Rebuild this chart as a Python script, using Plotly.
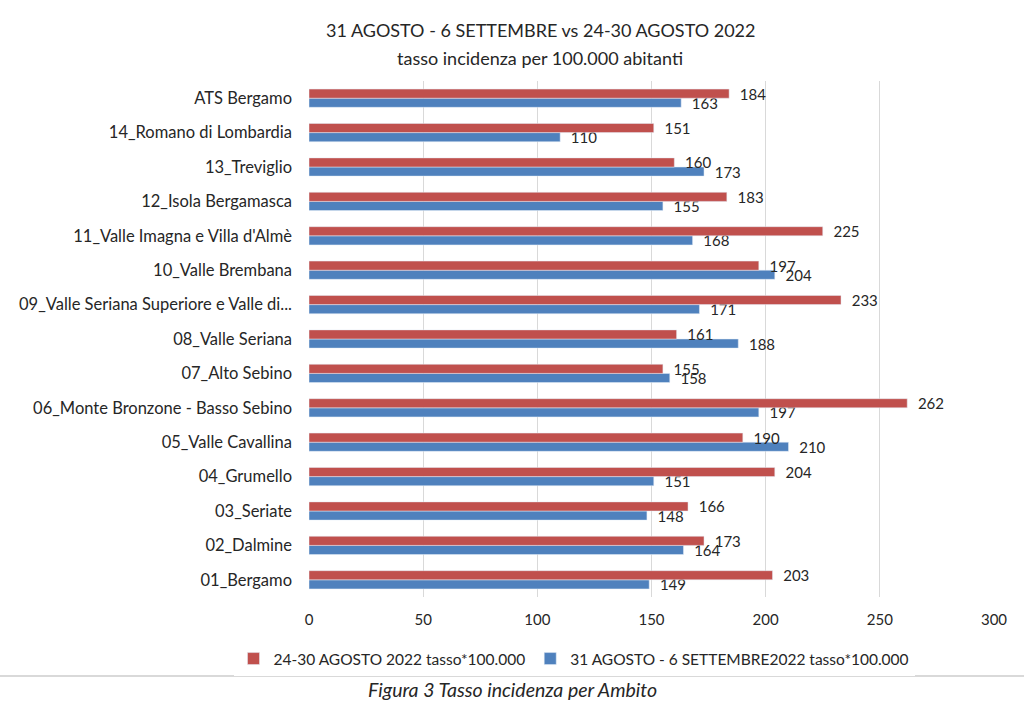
import plotly.graph_objects as go

categories = ["01_Bergamo", "02_Dalmine", "03_Seriate", "04_Grumello", "05_Valle Cavallina",
              "06_Monte Bronzone - Basso Sebino", "07_Alto Sebino", "08_Valle Seriana",
              "09_Valle Seriana Superiore e Valle di...", "10_Valle Brembana",
              "11_Valle Imagna e Villa d'Almè", "12_Isola Bergamasca", "13_Treviglio",
              "14_Romano di Lombardia", "ATS Bergamo"]
agosto_24_30 = [203, 173, 166, 204, 190, 262, 155, 161, 233, 197, 225, 183, 160, 151, 184]
agosto31_sett6 = [149, 164, 148, 151, 210, 197, 158, 188, 171, 204, 168, 155, 173, 110, 163]
tick_vals = [0, 50, 100, 150, 200, 250, 300]

FONT = "Lato"
TXT = "#262626"

fig = go.Figure()
fig.add_trace(go.Bar(
    y=categories, x=agosto31_sett6, orientation="h",
    name="31 AGOSTO - 6 SETTEMBRE2022 tasso*100.000",
    marker=dict(color="#4F81BD"), text=agosto31_sett6, texttemplate="  %{x}",
    textposition="outside", constraintext="none",
    textfont=dict(size=15, color=TXT, family=FONT), cliponaxis=False, legendrank=2))
fig.add_trace(go.Bar(
    y=categories, x=agosto_24_30, orientation="h",
    name="24-30 AGOSTO 2022 tasso*100.000",
    marker=dict(color="#C0504D"), text=agosto_24_30, texttemplate="  %{x}",
    textposition="outside", constraintext="none",
    textfont=dict(size=15, color=TXT, family=FONT), cliponaxis=False, legendrank=1))

fig.update_layout(
    width=1024, height=709,
    margin=dict(l=309, r=30, t=81, b=112, autoexpand=False),
    paper_bgcolor="white", plot_bgcolor="white",
    barmode="group", bargap=0.47, bargroupgap=0,
    font=dict(family=FONT, size=15, color=TXT),
    xaxis=dict(range=[0, 300], tickvals=tick_vals, showgrid=True, gridcolor="#d9d9d9",
               gridwidth=1, zeroline=False, showline=False, ticks="",
               tickfont=dict(size=15, color=TXT), ticklabelstandoff=12, automargin=False),
    yaxis=dict(showgrid=False, zeroline=False, showline=False, ticks="",
               tickfont=dict(size=16.5, color=TXT), ticklabelstandoff=16, automargin=False),
    legend=dict(orientation="h", x=(574-309)/685, xanchor="center", xref="paper",
                y=(597-659)/516, yanchor="middle", font=dict(size=15.5, color=TXT),
                itemwidth=30, traceorder="normal", entrywidthmode="pixels"),
    showlegend=True,
)
fig.add_annotation(text="31 AGOSTO - 6 SETTEMBRE vs 24-30 AGOSTO 2022", xref="paper", yref="paper",
                   x=(540-309)/685, y=(597-30)/516, xanchor="center", yanchor="middle",
                   showarrow=False, font=dict(size=18, color=TXT, family=FONT))
fig.add_annotation(text="tasso incidenza per 100.000 abitanti", xref="paper", yref="paper",
                   x=(540-309)/685, y=(597-58)/516, xanchor="center", yanchor="middle",
                   showarrow=False, font=dict(size=18, color=TXT, family=FONT))
fig.add_shape(type="line", xref="paper", yref="paper",
              x0=-309/685, x1=1+30/685, y0=(597-676)/516, y1=(597-676)/516,
              line=dict(color="#d9d9d9", width=2))
fig.add_annotation(text="<i>Figura 3 Tasso incidenza per Ambito</i>", xref="paper", yref="paper",
                   x=(512-309)/685, y=(597-690)/516, xanchor="center", yanchor="middle",
                   showarrow=False, font=dict(size=19.5, color=TXT, family=FONT))

fig.write_html("out.html")
